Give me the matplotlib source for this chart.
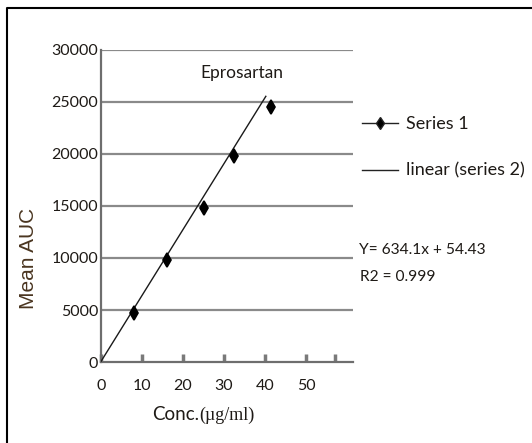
import matplotlib
matplotlib.use("Agg")
import matplotlib.pyplot as plt
from matplotlib.lines import Line2D
import numpy as np

# ---- data ----
conc = [8, 16, 25, 32.5, 41.5]
mean_auc = [4750, 9800, 14850, 19850, 24550]
slope = 634.1
intercept = 54.43
fit_x = [0, 40.2]
yticks = [0, 5000, 10000, 15000, 20000, 25000, 30000]
xticks = [0, 10, 20, 30, 40, 50]
title = "Eprosartan"
legend_labels = ["Series 1", "linear (series 2)"]
eq_text = "Y= 634.1x + 54.43"
r2_text = "R2 = 0.999"

W, H = 532, 443
fig = plt.figure(figsize=(W / 100, H / 100), dpi=100)
fig.patch.set_facecolor("white")

def fx(px):
    return px / W

def fy(py):
    return 1 - py / H

FONT = "Lato"
txtc = "#1e1a16"
gridc = "#8a8a8a"

ax = fig.add_axes([fx(101), fy(362), fx(353) - fx(101), fy(50) - fy(362)])
ax.set_xlim(0, (353 - 101) / 4.1)
ax.set_ylim(0, 30000)

for s in ["top", "right"]:
    ax.spines[s].set_visible(False)
for s in ["left", "bottom"]:
    ax.spines[s].set_color("#6e6e6e")
    ax.spines[s].set_linewidth(1.6)

for yv in yticks[1:]:
    ax.axhline(yv, color=gridc, lw=1.6, zorder=1)

ax.set_yticks(yticks)
ax.set_yticklabels([str(v) for v in yticks], fontfamily=FONT, fontsize=11.5, color=txtc)
ax.tick_params(axis="y", length=0, pad=2)

ax.set_xticks(xticks)
ax.set_xticklabels([str(v) for v in xticks], fontfamily=FONT, fontsize=11.5, color=txtc)
ax.set_xticks([57], minor=True)
ax.tick_params(axis="x", which="both", direction="in", length=6, width=2.5,
               color="#7a7a7a", pad=12)

fx_arr = np.array(fit_x)
ax.plot(fx_arr, slope * fx_arr + intercept, color="#1a1a1a", lw=1.0, zorder=3)
ax.plot(conc, mean_auc, linestyle="none", marker="d", markersize=7,
        markeredgewidth=1.2, color="black", zorder=4)

fig.text(fx(242), fy(73), title, ha="center", va="center", fontfamily=FONT,
         fontsize=12.5, color=txtc)

fig.text(fx(28), fy(258), "Mean AUC", rotation=90, ha="center", va="center",
         fontfamily="Liberation Sans", fontsize=15, color="#4a3520")
fig.text(fx(199), fy(415), "Conc.", ha="right", va="center", fontfamily=FONT,
         fontsize=13.5, color=txtc)
fig.text(fx(199), fy(415), "(µg/ml)", ha="left", va="center",
         fontfamily="Liberation Serif", fontsize=13, color=txtc)

h1 = Line2D([], [], color="#222", lw=1.0, marker="d", markersize=6.5,
            markerfacecolor="black")
h2 = Line2D([], [], color="#222", lw=1.0)
leg = fig.legend([h1, h2], legend_labels, loc="upper left",
                 bbox_to_anchor=(fx(362), fy(116)), frameon=False,
                 prop={"family": FONT, "size": 13}, handlelength=2.0,
                 handletextpad=0.45, labelspacing=1.7, borderpad=0,
                 borderaxespad=0)
for t in leg.get_texts():
    t.set_color(txtc)

fig.text(fx(359), fy(250), eq_text, ha="left", va="center", fontfamily=FONT,
         fontsize=11.2, color=txtc)
fig.text(fx(360), fy(277), r2_text, ha="left", va="center", fontfamily=FONT,
         fontsize=11.2, color=txtc)

fig.add_artist(Line2D([fx(7), fx(7), fx(532)], [fy(443), fy(8), fy(8)],
                      color="black", lw=1.5, transform=fig.transFigure))

fig.savefig("out.png", dpi=100)
